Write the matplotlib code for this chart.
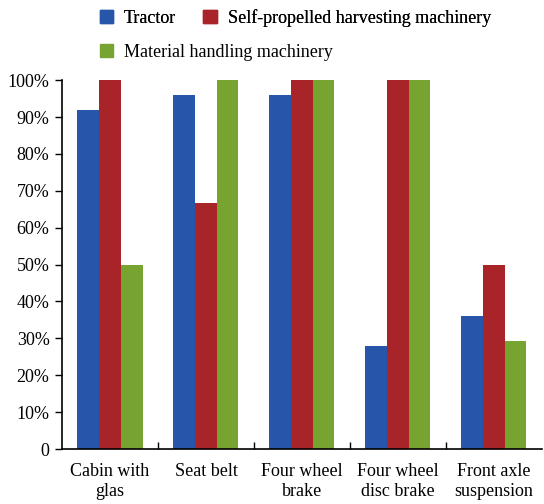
import numpy as np
from matplotlib import pyplot as plt
from matplotlib.patches import Patch

categories = ['Cabin with\nglas', 'Seat belt', 'Four wheel\nbrake', 'Four wheel\ndisc brake', 'Front axle\nsuspension']
tractor = [92, 96, 96, 28, 36]
harvesting = [100, 66.7, 100, 100, 50]
handling = [50, 100, 100, 100, 29.2]
series_names = ['Tractor', 'Self-propelled harvesting machinery', 'Material handling machinery']
colors = ['#2756A8', '#A82428', '#77A330']

plt.rcParams['font.family'] = ['Liberation Serif', 'DejaVu Serif']

fig = plt.figure(figsize=(5.44, 5.04), dpi=100)
ax = fig.add_axes([0.114, 0.109, 0.882, 0.732])

x = np.arange(len(categories))
width = 0.226
for i, (vals, col) in enumerate(zip([tractor, harvesting, handling], colors)):
    ax.bar(x + (i - 1) * width, vals, width, color=col, linewidth=0)

ax.set_xlim(-0.5, len(categories) - 0.5)
ax.set_ylim(0, 100)
ax.set_yticks(np.arange(0, 101, 10))
ax.set_yticklabels(['0'] + [f'{v}%' for v in range(10, 101, 10)], fontsize=13)
ax.set_xticks(x)
ax.set_xticklabels(categories, fontsize=13)
ax.set_xticks(np.arange(0.5, len(categories) - 1), minor=True)
ax.tick_params(axis='x', which='major', length=0, pad=10)
ax.tick_params(axis='x', which='minor', direction='in', length=5, width=1)
ax.tick_params(axis='y', direction='out', length=5, width=1, pad=4)
for side in ['top', 'right']:
    ax.spines[side].set_visible(False)
for side in ['left', 'bottom']:
    ax.spines[side].set_linewidth(1.2)

# two legends so the second entry sits right after "Tractor"
handles = [Patch(color=c) for c in colors]
leg_kw = dict(loc='upper left', frameon=False, fontsize=13, handlelength=0.75,
              handleheight=0.75, handletextpad=0.6, columnspacing=1.5,
              borderpad=0, borderaxespad=0)
leg1 = fig.legend(handles[:2], series_names[:2], ncol=2,
                  bbox_to_anchor=(0.183, 0.982), **leg_kw)
fig.legend(handles[2:], series_names[2:], bbox_to_anchor=(0.183, 0.913), **leg_kw)
fig.add_artist(leg1)

fig.savefig('out.png', dpi=100)
